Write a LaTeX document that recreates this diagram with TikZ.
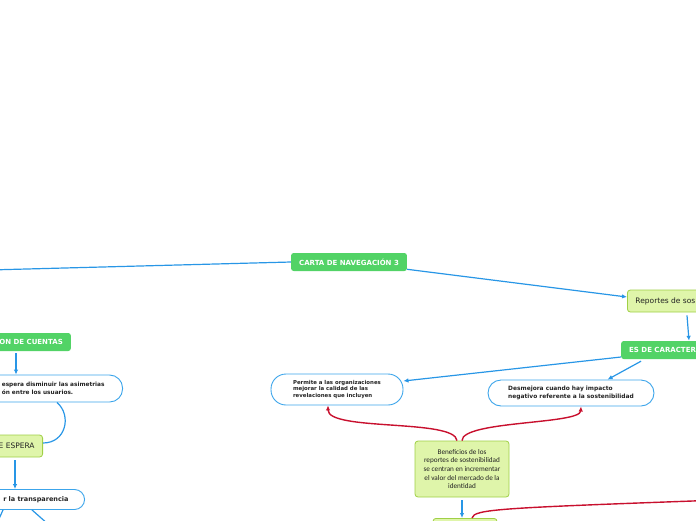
\documentclass[tikz,border=0pt]{standalone}
\usepackage{fontspec}
\setmainfont{DejaVu Sans}
\newfontfamily\carlito{Carlito}
\usepackage{tikz}
\usetikzlibrary{arrows.meta,positioning}
\definecolor{mapblue}{RGB}{40,150,230}
\definecolor{topicgreen}{RGB}{82,211,102}
\definecolor{ideafill}{RGB}{223,245,170}
\definecolor{ideadraw}{RGB}{160,208,70}
\definecolor{bubbleline}{RGB}{60,165,235}
\definecolor{relred}{RGB}{200,16,46}
\definecolor{inkdark}{RGB}{35,35,35}

\begin{document}
\begin{tikzpicture}[x=1pt, y=-1pt,
    >={Latex[length=5pt,width=4.5pt]},
    topic/.style={rectangle, rounded corners=2.5pt, fill=topicgreen, draw=none, text=white,
                  font=\fontsize{7}{8}\selectfont\bfseries, minimum height=18pt, inner xsep=8pt, inner ysep=0pt},
    idea/.style={rectangle, rounded corners=3pt, fill=ideafill, draw=ideadraw, line width=0.8pt,
                 text=inkdark, font=\fontsize{7.5}{8.5}\selectfont, minimum height=22pt, inner xsep=8pt, inner ysep=0pt},
    bubble/.style={rectangle, rounded corners=10pt, fill=white, draw=bubbleline, line width=0.9pt,
                   text=inkdark, align=left, font=\fontsize{5.8}{8.6}\selectfont\bfseries, inner ysep=0pt},
    link/.style={draw=mapblue, line width=1.2pt},
    rel/.style={draw=relred, line width=1.4pt}
]
    \useasboundingbox (0,0) rectangle (696,520);
    \clip (0,0) rectangle (696,520);
    \node[topic] (carta) at (349,262) {CARTA DE NAVEGACIÓN 3};
    \node[idea, anchor=west] (reportes) at (627,301) {Reportes de sos};
    \node[topic, anchor=west] (caracter) at (621,350) {ES DE CARACTER};
    \node[bubble, rounded corners=15pt, minimum width=132pt, minimum height=31pt,
          font=\fontsize{5.4}{6.6}\selectfont\bfseries] (permite) at (337,389.5)
          {Permite a las organizaciones\\mejorar la calidad de las\\revelaciones que incluyen};
    \node[bubble, rounded corners=13pt, minimum width=166pt, minimum height=26pt,
          font=\fontsize{5.9}{8.3}\selectfont\bfseries] (desmejora) at (571,393)
          {Desmejora cuando hay impacto\\negativo referente a la sostenibilidad};
    \node[idea, align=center, minimum width=94pt, minimum height=56pt, inner xsep=3pt,
          font=\carlito\fontsize{7.2}{8.7}\selectfont] (beneficios) at (462,469)
          {Beneficios de los\\reportes de sostenibilidad\\se centran en incrementar\\el valor del mercado de la\\identidad};
    \node[idea, anchor=north, minimum width=64pt, minimum height=20pt] (valor) at (465,518) {};
    \node[topic, anchor=east] (cuentas) at (71,342) {ON DE CUENTAS};
    \node[bubble, anchor=east, rounded corners=13pt, minimum height=27pt, inner xsep=18pt] (espera) at (123,388.5)
          {espera disminuir las asimetrias\\ón entre los usuarios.};
    \node[idea, anchor=east] (eespera) at (43,446) {E ESPERA};
    \node[bubble, anchor=east, minimum height=20pt, inner xsep=16pt,
          font=\fontsize{6.5}{8}\selectfont\bfseries] (transp) at (85,499.5) {r la transparencia};
    \coordinate (offleft) at (-200,275);
    \coordinate (offa) at (-6,530);
    \coordinate (offb) at (57,532);
    \coordinate (offright) at (720,500);
    \draw[link] (offleft) -- (carta.west);
    \draw[link,->] (carta) -- ([yshift=4pt]reportes.west);
    \draw[link,->] ([xshift=60pt,yshift=-3pt]reportes.south west) -- ([xshift=68pt]caracter.north west);
    \draw[link,->] ([yshift=-7pt]caracter.west) -- ([yshift=8.5pt]permite.east);
    \draw[link,->] ([xshift=20pt,yshift=-2pt]caracter.south west) -- ([xshift=120pt]desmejora.north west);
    \draw[rel,->] ([xshift=-5pt]beneficios.north) .. controls +(-2,-22) and +(0,26) .. ([xshift=-9pt]permite.south);
    \draw[rel,->] (beneficios.north) .. controls +(0,-20) and +(-1,18) .. ([xshift=10pt]desmejora.south);
    \draw[link,->] ([yshift=-3pt]beneficios.south) -- (beneficios.south |- valor.north);
    \draw[rel] ([xshift=7pt]valor.north) .. controls +(2,-9) and +(-220,8) .. (offright);
    \draw[link,->] ([xshift=-55pt,yshift=-2pt]cuentas.south east) -- ([xshift=-107pt]espera.north east);
    \draw[link] ([xshift=-66pt]espera.south east) .. controls +(15,13) and +(23,0) .. ([yshift=3pt]eespera.east);
    \draw[link,->] ([xshift=-28pt,yshift=-3pt]eespera.south east) -- ([xshift=-70pt]transp.north east);
    \draw[link] ([xshift=-82pt]transp.south east) -- (offa);
    \draw[link] ([xshift=-53pt]transp.south east) -- (offb);
\end{tikzpicture}
\end{document}
